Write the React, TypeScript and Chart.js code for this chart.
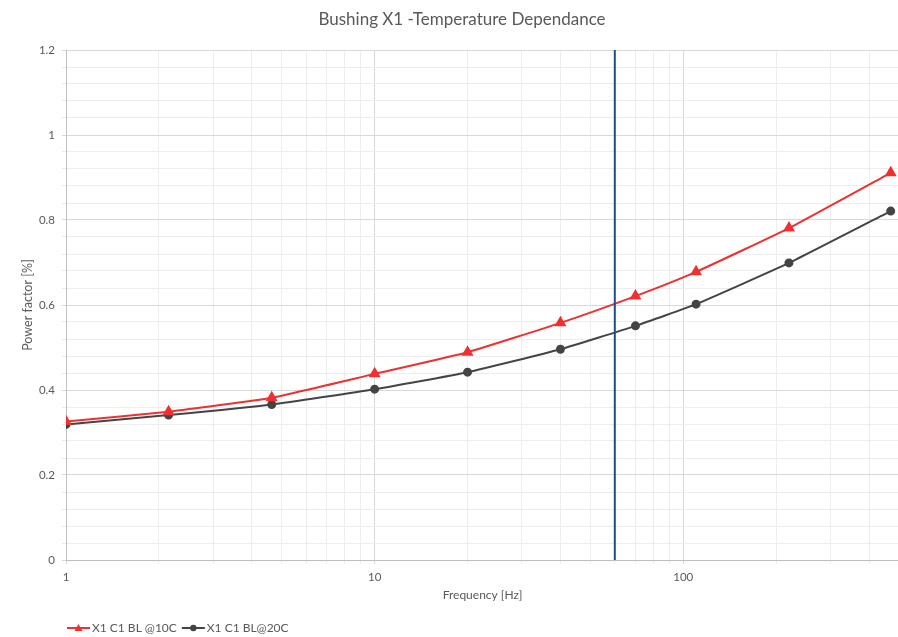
import React, { useEffect, useRef } from "react";
import { Chart, registerables } from "chart.js";

Chart.register(...registerables);

const chartTitle = "Bushing X1 -Temperature Dependance";
const xAxisTitle = "Frequency [Hz]";
const yAxisTitle = "Power factor [%]";

const frequencies = [1, 2.15, 4.64, 10, 20, 40, 70, 110, 220, 470];
const pf10C = [0.326, 0.349, 0.382, 0.438, 0.489, 0.558, 0.621, 0.678, 0.781, 0.911];
const pf20C = [0.319, 0.341, 0.366, 0.402, 0.442, 0.496, 0.551, 0.602, 0.699, 0.821];
const seriesLabels = ["X1 C1 BL @10C", "X1 C1 BL@20C"];

const markerFrequency = 60;
const markerRange = [0, 1.2];

const xTickValues = [1, 2, 3, 4, 5, 6, 7, 8, 9, 10, 20, 30, 40, 50, 60, 70, 80, 90, 100, 200, 300, 400, 500];
const xMajorTicks = [1, 10, 100];
const yMin = 0;
const yMax = 1.2;
const yMinorStep = 0.04;
const yMajorEvery = 5;

const FONT = "Lato, 'Open Sans', sans-serif";
const TEXT = "#595959";

const overlayPlugin = {
  id: "overlay",
  afterDraw(chart: any) {
    const ctx = chart.ctx;
    ctx.save();
    ctx.fillStyle = TEXT;
    ctx.font = `17px ${FONT}`;
    ctx.textAlign = "center";
    ctx.textBaseline = "middle";
    ctx.fillText(chartTitle, 462, 20);

    // legend
    const items = chart.data.datasets.filter((d: any) => d.showInLegend);
    let x = 67;
    const y = 628;
    ctx.font = `12px ${FONT}`;
    ctx.textAlign = "left";
    items.forEach((d: any) => {
      ctx.strokeStyle = d.borderColor;
      ctx.lineWidth = 2;
      ctx.beginPath();
      ctx.moveTo(x, y);
      ctx.lineTo(x + 23, y);
      ctx.stroke();
      const cx = x + 11.5;
      ctx.fillStyle = d.pointBackgroundColor;
      ctx.beginPath();
      if (d.pointStyle === "triangle") {
        ctx.moveTo(cx, y - 4);
        ctx.lineTo(cx + 4, y + 3);
        ctx.lineTo(cx - 4, y + 3);
        ctx.closePath();
      } else {
        ctx.arc(cx, y, 3.2, 0, Math.PI * 2);
      }
      ctx.fill();
      ctx.fillStyle = TEXT;
      ctx.fillText(d.label, x + 25, y);
      x += 25 + ctx.measureText(d.label).width + 5;
    });
    ctx.restore();
  },
};

export default function App() {
  const ref = useRef<HTMLCanvasElement>(null);
  useEffect(() => {
    if (!ref.current) return;
    const chart = new Chart(ref.current, {
      type: "line",
      data: {
        datasets: [
          {
            label: "60 Hz",
            data: markerRange.map((v) => ({ x: markerFrequency, y: v })),
            borderColor: "#1f4e8c",
            borderWidth: 2,
            pointRadius: 0,
            showInLegend: false,
          } as any,
          {
            label: seriesLabels[0],
            data: frequencies.map((f, i) => ({ x: f, y: pf10C[i] })),
            borderColor: "#f03030",
            backgroundColor: "#f03030",
            pointBackgroundColor: "#f03030",
            pointBorderColor: "#f03030",
            pointStyle: "triangle",
            pointRadius: 5,
            borderWidth: 2,
            tension: 0.15,
            showInLegend: true,
          } as any,
          {
            label: seriesLabels[1],
            data: frequencies.map((f, i) => ({ x: f, y: pf20C[i] })),
            borderColor: "#444444",
            backgroundColor: "#444444",
            pointBackgroundColor: "#444444",
            pointBorderColor: "#444444",
            pointStyle: "circle",
            pointRadius: 3.5,
            borderWidth: 2,
            tension: 0.15,
            showInLegend: true,
          } as any,
        ],
      },
      options: {
        responsive: false,
        animation: false,
        layout: { padding: { top: 50, left: 0, right: 0, bottom: 0 } },
        plugins: { legend: { display: false }, title: { display: false }, tooltip: { enabled: false } },
        scales: {
          x: {
            type: "logarithmic",
            min: 1,
            max: 500,
            afterBuildTicks: (scale: any) => {
              scale.ticks = xTickValues.map((v) => ({ value: v }));
            },
            afterFit: (scale: any) => {
              scale.height = 77;
              scale.paddingRight = 0;
              scale.paddingLeft = 0;
            },
            grid: {
              color: (c: any) => (xMajorTicks.includes(c.tick?.value) ? "#d9d9d9" : "#ededed"),
              tickLength: 4,
            },
            border: { color: "#bfbfbf" },
            ticks: {
              autoSkip: false,
              maxRotation: 0,
              padding: 6,
              color: TEXT,
              font: { family: FONT, size: 11.5 },
              callback: (v: any) => (xMajorTicks.includes(Number(v)) ? String(v) : ""),
            },
            title: {
              display: true,
              text: xAxisTitle,
              color: TEXT,
              font: { family: FONT, size: 12 },
              padding: { top: 0, bottom: 35 },
            },
          },
          y: {
            type: "linear",
            min: yMin,
            max: yMax,
            afterBuildTicks: (scale: any) => {
              const n = Math.round((yMax - yMin) / yMinorStep);
              scale.ticks = Array.from({ length: n + 1 }, (_, i) => ({
                value: Math.round((yMin + i * yMinorStep) * 1000) / 1000,
              }));
            },
            afterFit: (scale: any) => {
              scale.width = 66;
            },
            grid: {
              color: (c: any) =>
                Math.round((c.tick?.value ?? 0) / yMinorStep) % yMajorEvery === 0 ? "#d9d9d9" : "#ededed",
              tickLength: 4,
            },
            border: { color: "#bfbfbf" },
            ticks: {
              autoSkip: false,
              padding: 7,
              color: TEXT,
              font: { family: FONT, size: 11.5 },
              callback: (v: any) =>
                Math.round(Number(v) / yMinorStep) % yMajorEvery === 0
                  ? String(Math.round(Number(v) * 10) / 10)
                  : "",
            },
            title: {
              display: true,
              text: yAxisTitle,
              color: TEXT,
              font: { family: FONT, size: 12.5 },
              padding: { top: 20, bottom: 0 },
            },
          },
        },
      },
      plugins: [overlayPlugin],
    } as any);
    return () => chart.destroy();
  }, []);
  return (
    <div
      style={{
        position: "absolute",
        left: 0,
        top: 0,
        width: 898,
        height: 637,
        overflow: "hidden",
        background: "#fff",
      }}
    >
      <canvas ref={ref} width={906} height={637} style={{ display: "block" }} />
    </div>
  );
}
